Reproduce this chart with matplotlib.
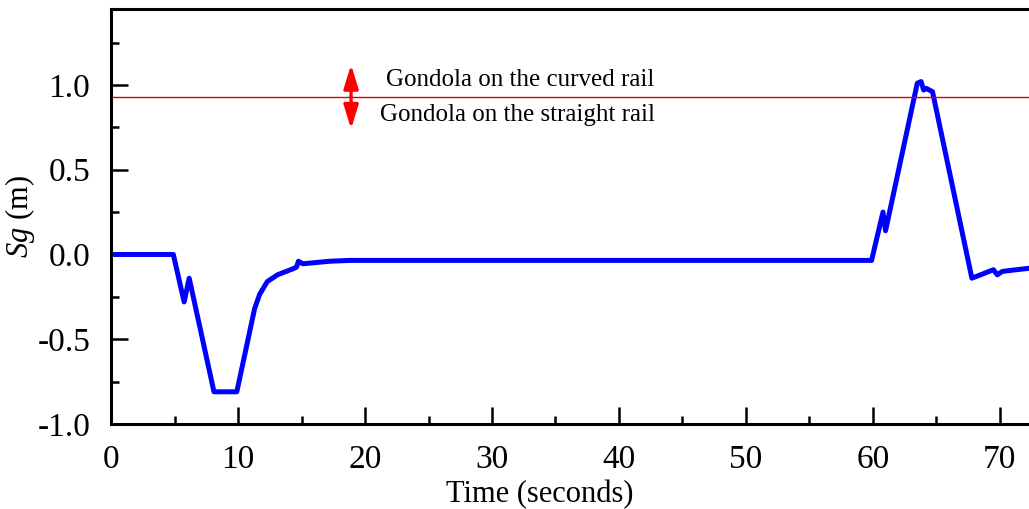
import numpy as np
import matplotlib.pyplot as plt
from matplotlib.ticker import MultipleLocator

# gondola displacement Sg over time
time_s = [0.0, 4.9, 5.75, 6.15, 8.1, 9.9, 11.3, 11.7, 12.3, 13.1, 14.3, 14.6,
          14.75, 15.1, 17.2, 18.8, 30.0, 45.0, 59.9, 60.8, 61.0, 63.5, 63.8,
          64.0, 64.2, 64.7, 67.8, 69.5, 69.8, 70.2, 71.3, 72.5]
sg_m = [0.0, 0.0, -0.28, -0.14, -0.81, -0.81, -0.32, -0.235, -0.16, -0.12,
        -0.085, -0.075, -0.04, -0.055, -0.04, -0.035, -0.035, -0.035, -0.035,
        0.25, 0.14, 1.01, 1.02, 0.97, 0.98, 0.96, -0.14, -0.09, -0.12, -0.10,
        -0.09, -0.08]

rail_level = 0.93
arrow_t = 18.9
upper_text = "Gondola on the curved rail"
lower_text = "Gondola on the straight rail"

plt.rcParams['font.family'] = ['Liberation Serif', 'DejaVu Serif']
plt.rcParams['mathtext.fontset'] = 'custom'
plt.rcParams['mathtext.it'] = 'Liberation Serif:italic'
plt.rcParams['mathtext.rm'] = 'Liberation Serif'

fig = plt.figure(figsize=(10.29, 5.09), dpi=100)
ax = fig.add_axes([0.108, 0.167, 0.892, 0.815])

ax.plot(time_s, sg_m, color='#0000ff', lw=3.6, solid_joinstyle='round')
ax.axhline(rail_level, color='#dd0000', lw=1.0)

# double arrow marking the rail transition
for tip in (1.12, 0.74):
    ax.annotate('', xy=(arrow_t, tip), xytext=(arrow_t, rail_level),
                arrowprops=dict(arrowstyle='-|>,head_length=0.65,head_width=0.2',
                                color='red', lw=2.4,
                                mutation_scale=22, shrinkA=0, shrinkB=0))
ax.text(32.2, 1.027, upper_text, ha='center', va='center', fontsize=18)
ax.text(32.0, 0.822, lower_text, ha='center', va='center', fontsize=18)

ax.set_xlim(0, 72.3)
ax.set_ylim(-1.0, 1.447)
ax.xaxis.set_major_locator(MultipleLocator(10))
ax.xaxis.set_minor_locator(MultipleLocator(5))
ax.yaxis.set_minor_locator(MultipleLocator(0.25))
ax.set_yticks([-1.0, -0.5, 0.0, 0.5, 1.0])
ax.set_yticklabels(['-1.0', '-0.5', '0.0', '0.5', '1.0'])

ax.tick_params(which='both', direction='in', width=1.8, labelsize=24, pad=15)
ax.tick_params(which='major', length=12)
ax.tick_params(which='minor', length=6)
ax.tick_params(top=False, right=False)

for side in ('left', 'bottom', 'top'):
    ax.spines[side].set_linewidth(2.2)
ax.spines['right'].set_visible(False)

ax.set_xlabel('Time (seconds)', fontsize=22, labelpad=0)
ax.xaxis.set_label_coords(0.467, -0.135)
ax.set_ylabel(r'$Sg$ (m)', fontsize=22)
ax.yaxis.set_label_coords(-0.081, 0.5)

fig.savefig('out.png', dpi=100)
